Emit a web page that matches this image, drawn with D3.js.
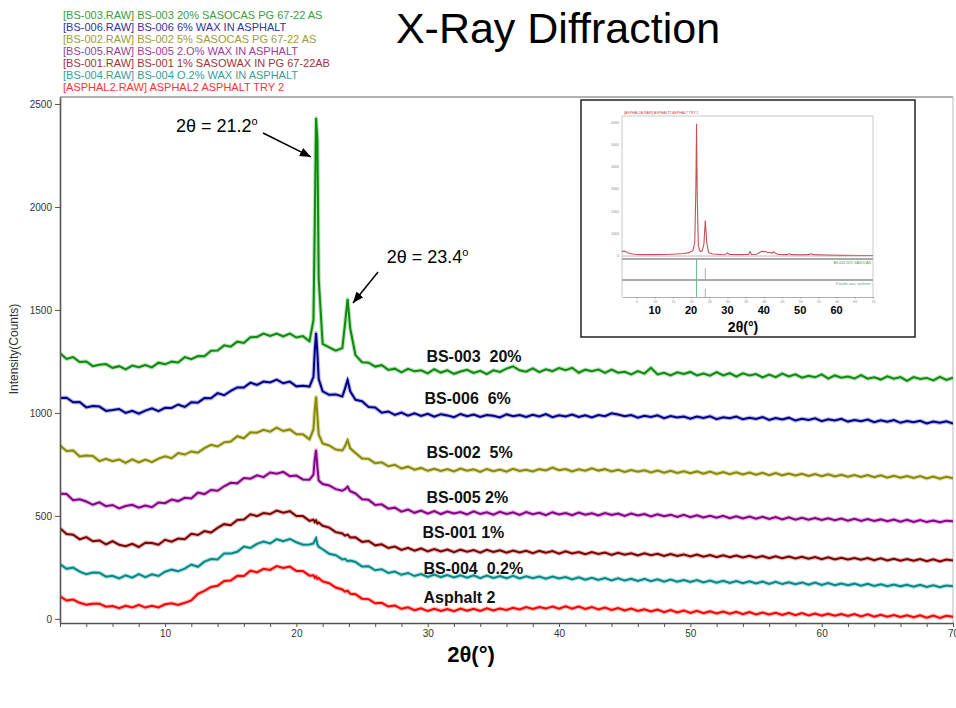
<!DOCTYPE html>
<html><head><meta charset="utf-8">
<script src="https://cdn.jsdelivr.net/npm/d3@7"></script>
<style>
body{margin:0;background:#fff}
svg{display:block}
text{font-family:"Liberation Sans",Arial,Helvetica,sans-serif}
</style>
</head><body>
<svg id="chart" width="956" height="708"></svg>
<script>
// ---------- DATA ----------
const twoTheta = [2,2.5,3,3.5,4,4.5,5,5.5,6,6.5,7,7.5,8,8.5,9,9.5,10,10.5,11,11.5,12,12.5,13,13.5,14,14.5,15,15.5,16,16.5,17,17.5,18,18.5,19,19.5,20,20.5,21,
21.3,21.4,21.5,21.6,21.7,
22,22.5,23,23.5,
23.7,23.9,24.1,
24.5,25,25.5,26,26.5,27,27.5,28,28.5,29,29.5,30,30.5,31,31.5,32,32.5,33,33.5,34,34.5,35,35.5,36,36.5,37,37.5,38,38.5,39,39.5,40,40.5,41,41.5,42,42.5,43,43.5,44,44.5,45,45.5,46,46.5,47,47.5,48,48.5,49,49.5,50,50.5,51,51.5,52,52.5,53,53.5,54,54.5,55,55.5,56,56.5,57,57.5,58,58.5,59,59.5,60,60.5,61,61.5,62,62.5,63,63.5,64,64.5,65,65.5,66,66.5,67,67.5,68,68.5,69,69.5,70];

const bs003 = [1290,1262,1271,1247,1250,1227,1234,1237,1219,1227,1211,1230,1222,1233,1221,1244,1236,1249,1245,1271,1261,1276,1275,1302,1303,1328,1322,1346,1340,1368,1369,1385,1374,1385,1371,1385,1366,1373,1348,
1450,1920,2432,2325,1650,
1335,1318,1302,1315,
1430,1553,1410,
1281,1246,1244,1225,1232,1209,1215,1197,1214,1202,1207,1192,1212,1196,1207,1190,1201,1209,1194,1204,1188,1207,1199,1215,1226,1207,1200,1216,1198,1212,1203,1218,1208,1219,1195,1210,1202,1211,1194,1210,1195,1200,1187,1203,1191,1219,1187,1195,1182,1197,1189,1199,1182,1191,1181,1198,1182,1193,1176,1192,1182,1189,1172,1186,1174,1191,1177,1187,1171,1180,1173,1187,1167,1182,1171,1177,1167,1184,1166,1173,1162,1178,1166,1174,1156,1174,1165,1170,1158,1175,1160,1171];

const bs006 = [1072,1074,1052,1053,1027,1034,1031,1010,1014,1019,1000,1010,996,1011,1022,1009,1025,1024,1041,1029,1052,1050,1072,1071,1096,1086,1107,1124,1123,1147,1136,1152,1148,1162,1144,1152,1129,1132,1128,
1175,1300,1388,1290,1165,
1105,1088,1090,1080,
1118,1160,1105,
1064,1057,1029,1026,1001,1007,990,1002,987,998,985,996,982,994,988,979,995,984,992,981,990,986,978,993,984,990,980,991,983,994,979,989,983,992,980,988,978,990,984,998,992,984,990,977,986,980,988,974,985,978,983,972,982,975,984,970,979,974,982,969,977,971,980,966,975,968,977,963,972,966,974,960,969,963,971,958,966,960,968,955,964,957,965,952,961,955,962,949,958,952,959,948];

const bs002 = [842,815,818,789,793,791,766,777,766,774,757,775,760,773,761,778,789,780,805,798,813,807,829,845,837,857,861,887,877,906,904,918,909,929,912,920,896,896,872,
920,1015,1078,985,895,
852,842,822,818,
838,868,828,
806,779,777,756,760,741,748,730,739,724,733,719,729,718,727,716,730,719,726,714,728,717,725,715,729,718,724,716,727,721,735,722,728,716,726,719,731,720,727,716,724,713,723,715,722,711,720,710,719,708,717,707,716,705,715,704,713,703,712,701,711,700,709,698,708,697,706,696,705,694,703,693,702,692,700,690,699,689,698,688,697,686,695,685,694,684,693,682,691,681,690,683];

const bs005 = [608,606,576,581,570,554,566,547,553,536,548,554,540,550,542,565,562,579,572,588,585,613,606,626,622,644,661,658,684,681,697,688,711,705,714,693,696,677,676,
700,775,820,735,672,
655,648,630,622,
630,642,620,
609,581,578,553,556,535,540,521,531,515,526,511,523,509,521,512,519,507,522,510,518,506,520,509,517,505,519,508,515,504,518,507,514,503,516,506,513,502,514,505,511,500,512,502,509,497,508,498,506,495,505,494,503,492,501,491,500,489,498,488,497,486,496,485,494,483,493,482,491,481,490,480,489,479,487,477,486,476,485,475,483,474,482,472,481,471,480,470,478,469,477,474];

const bs001 = [440,412,409,386,397,377,381,362,377,360,353,364,349,370,368,360,384,375,390,387,413,407,426,419,442,460,455,480,482,508,499,514,509,526,515,523,499,499,476,
482,470,478,463,468,
452,443,421,415,
404,409,395,
396,374,378,357,362,344,351,335,345,331,342,328,339,327,337,324,336,326,334,322,335,325,333,321,332,323,331,319,330,321,329,317,328,318,325,314,324,315,322,311,321,312,319,308,318,309,316,305,315,306,313,303,312,302,310,300,309,299,308,298,306,297,305,295,304,294,303,293,301,292,300,290,299,289,297,288,296,287,295,285,294,284,292,283,291,282,290,280,289,279,288,284];

const bs004 = [266,243,249,229,217,225,224,205,209,196,211,200,217,203,216,208,229,239,231,244,264,253,278,291,288,318,317,326,351,344,364,375,366,387,377,388,372,360,361,
366,380,392,362,350,
338,316,309,289,
292,280,283,
276,254,256,236,241,223,230,214,223,208,218,204,215,203,213,201,212,200,211,198,210,199,208,197,209,196,207,198,206,195,205,196,203,192,202,190,200,189,198,187,197,186,195,184,194,183,192,181,191,180,189,179,188,177,186,176,185,174,184,173,182,172,181,170,180,169,178,168,177,166,176,165,174,164,172,163,171,161,170,160,168,159,167,158,166,156,165,155,163,154,162,158];

const asphalt2 = [110,89,94,78,69,74,74,59,62,52,64,55,68,55,64,56,71,76,68,78,90,122,136,155,161,184,186,209,208,234,226,243,238,256,247,254,233,232,210,
212,200,206,194,198,
182,173,152,143,
132,137,122,
120,98,96,76,78,60,65,49,56,42,51,38,49,39,48,37,50,40,49,39,51,41,50,43,54,46,57,48,58,50,60,49,61,50,60,48,58,46,55,43,53,41,50,38,47,36,45,33,43,31,41,29,39,28,37,26,36,25,34,23,33,22,31,21,30,19,29,18,28,17,26,16,25,15,24,14,23,12,22,11,20,10,19,9,18,8,17,6,16,5,15,10];

const seriesValues = [bs003, bs006, bs002, bs005, bs001, bs004, asphalt2];
const legendLabels = [
  "[BS-003.RAW] BS-003 20% SASOCAS PG 67-22 AS",
  "[BS-006.RAW] BS-006 6% WAX IN ASPHALT",
  "[BS-002.RAW] BS-002 5% SASOCAS PG 67-22 AS",
  "[BS-005.RAW] BS-005 2.O% WAX IN ASPHALT",
  "[BS-001.RAW] BS-001 1% SASOWAX IN PG 67-22AB",
  "[BS-004.RAW] BS-004 O.2% WAX IN ASPHALT",
  "[ASPHAL2.RAW] ASPHAL2 ASPHALT TRY 2"
];
const curveLabels = ["BS-003  20%","BS-006  6%","BS-002  5%","BS-005 2%","BS-001 1%","BS-004  0.2%","Asphalt 2"];
const curveLabelPos = [[29.9,1248],[29.76,1044],[29.9,782],[29.9,563],[29.6,393],[29.68,218],[29.68,78]];
const lineColors = ["#0c8c0c","#00008c","#8a8a00","#8a008a","#800000","#008a8a","#ff0000"];
const legendColors = ["#3c9c3c","#33339c","#9c9c38","#9c3c9c","#9c3636","#3a9c9c","#ff3333"];

const xTickValues = [2,4,6,8,10,12,14,16,18,20,22,24,26,28,30,32,34,36,38,40,42,44,46,48,50,52,54,56,58,60,62,64,66,68,70];
const xTickLabels = [10,20,30,40,50,60,70];
const yTickValues = [0,500,1000,1500,2000,2500];

const annotations = [
  {text:"2θ = 21.2", sup:"o", tx:10.83, ty:2364, from:[17.46,2359], to:[21.11,2243]},
  {text:"2θ = 23.4", sup:"o", tx:26.88, ty:1728, from:[26.22,1684], to:[24.31,1534]}
];

// inset (whole-range pattern)
const insetTheta  = [1,1.5,2,2.5,3,4,5,7,10,13,16,18,19.5,20.5,21,21.3,21.5,21.7,22,22.5,23,23.5,23.9,24.3,24.8,26,28,29.5,30,30.5,33,35.8,36.2,36.6,38,39.3,39.7,40.1,40.5,41,41.5,42.2,42.6,43,44,46.5,47,47.5,50,52.5,53,53.5,55,58,62,66,70];
const insetCounts = [180,230,200,150,120,90,70,60,60,70,90,110,150,250,600,3000,5950,2500,450,200,220,500,1600,600,150,90,70,80,140,70,60,70,200,70,80,200,220,180,210,150,170,120,190,130,70,60,110,60,50,60,110,60,50,40,30,20,20];
const insetYTicks = [0,1000,2000,3000,4000,5000,6000];
const insetXLabels = [10,20,30,40,50,60];

// ---------- DRAW ----------
const svg = d3.select("#chart");
const x = d3.scaleLinear().domain([2,70]).range([60,953]);
const y = d3.scaleLinear().domain([-20,2534]).range([623,97]);

svg.append("text").attr("x",558).attr("y",43).attr("text-anchor","middle")
  .attr("font-size",43).attr("fill","#000").text("X-Ray Diffraction");

svg.append("g").selectAll("text").data(legendLabels).join("text")
  .attr("x",63).attr("y",(d,i)=>19+i*12).attr("font-size",11)
  .attr("fill",(d,i)=>legendColors[i]).text(d=>d);

svg.append("line").attr("x1",x(2)).attr("x2",x(70)).attr("y1",y(2534)).attr("y2",y(2534))
  .attr("stroke","#666").attr("stroke-width",1.2);
svg.append("line").attr("x1",x(70)).attr("x2",x(70)).attr("y1",y(2534)).attr("y2",y(-20))
  .attr("stroke","#bbb").attr("stroke-width",1);

svg.append("clipPath").attr("id","plotclip").append("rect")
  .attr("x",x(2)).attr("y",y(2534)).attr("width",x(70)-x(2)).attr("height",y(-20)-y(2534));

const line = d3.line().x(d=>x(d[0])).y(d=>y(d[1]));
const gLines = svg.append("g").attr("clip-path","url(#plotclip)");
seriesValues.forEach((vals,i)=>{
  const n = Math.min(vals.length, twoTheta.length);
  const pts = d3.range(n).map(k=>[twoTheta[k], vals[k]]);
  gLines.append("path").datum(pts).attr("d",line)
    .attr("fill","none").attr("stroke",lineColors[i]).attr("stroke-width",4.2)
    .attr("stroke-opacity",0.28).attr("stroke-linejoin","round");
  gLines.append("path").datum(pts).attr("d",line)
    .attr("fill","none").attr("stroke",lineColors[i]).attr("stroke-width",2)
    .attr("stroke-linejoin","miter");
});

const xAxis = svg.append("g").attr("transform",`translate(0,${y(-20)})`)
  .call(d3.axisBottom(x).tickValues(xTickValues).tickSize(4).tickSizeOuter(0)
    .tickFormat(d=>xTickLabels.includes(d)?d:""));
xAxis.select(".domain").attr("stroke","#555").attr("stroke-width",1.6);
xAxis.selectAll(".tick line").attr("stroke","#555");
xAxis.selectAll(".tick text").attr("font-size",10).attr("fill","#333")
  .attr("font-family","Liberation Sans, Arial, sans-serif");

const yAxis = svg.append("g").attr("transform",`translate(${x(2)},0)`)
  .call(d3.axisLeft(y).tickValues(yTickValues).tickSize(5).tickSizeOuter(0).tickFormat(d3.format("d")));
yAxis.select(".domain").attr("stroke","#555").attr("stroke-width",1.6);
yAxis.selectAll(".tick line").attr("stroke","#555");
yAxis.selectAll(".tick text").attr("font-size",10).attr("fill","#333")
  .attr("font-family","Liberation Sans, Arial, sans-serif");

svg.append("text").attr("transform","translate(18,349) rotate(-90)")
  .attr("text-anchor","middle").attr("font-size",12).attr("fill","#333").text("Intensity(Counts)");
svg.append("text").attr("x",471).attr("y",662).attr("text-anchor","middle")
  .attr("font-size",22).attr("font-weight","bold").attr("fill","#000").text("2θ(°)");

svg.append("g").selectAll("text").data(curveLabels).join("text")
  .attr("x",(d,i)=>x(curveLabelPos[i][0])).attr("y",(d,i)=>y(curveLabelPos[i][1]))
  .attr("font-size",16).attr("font-weight","bold").attr("fill","#111")
  .style("white-space","pre").text(d=>d);

svg.append("defs").append("marker").attr("id","arrow")
  .attr("markerUnits","userSpaceOnUse").attr("markerWidth",11).attr("markerHeight",9)
  .attr("refX",11).attr("refY",4.5).attr("orient","auto")
  .append("path").attr("d","M0,0 L11,4.5 L0,9 Z").attr("fill","#000");
annotations.forEach(a=>{
  const t = svg.append("text").attr("x",x(a.tx)).attr("y",y(a.ty)).attr("font-size",18).attr("fill","#000");
  t.append("tspan").text(a.text);
  t.append("tspan").attr("font-size",11).attr("dy",-7).text(a.sup);
  svg.append("line").attr("x1",x(a.from[0])).attr("y1",y(a.from[1]))
    .attr("x2",x(a.to[0])).attr("y2",y(a.to[1]))
    .attr("stroke","#000").attr("stroke-width",1.5).attr("marker-end","url(#arrow)");
});

// ---------- INSET ----------
const inset = svg.append("g");
inset.append("rect").attr("x",581).attr("y",100).attr("width",334).attr("height",237)
  .attr("fill","#fff").attr("stroke","#222").attr("stroke-width",1.5);
const ix = d3.scaleLinear().domain([1,70]).range([622,873]);
const iy = d3.scaleLinear().domain([0,6300]).range([256,116]);
inset.append("path").attr("d",`M${ix(1)},297 V${iy(6300)} H${ix(70)} V297`)
  .attr("fill","none").attr("stroke","#bbb").attr("stroke-width",0.8);
inset.append("text").attr("x",624).attr("y",114).attr("font-size",3.5).attr("fill","#d04040")
  .text("[ASPHAL2A.RAW] ASPHALT2 ASPHALT TRY 2");
inset.append("g").selectAll("text").data(insetYTicks).join("text")
  .attr("x",619).attr("y",d=>iy(d)+1).attr("text-anchor","end").attr("font-size",3.5).attr("fill","#888")
  .text(d=>d);
[259,280].forEach(yy=>inset.append("line").attr("x1",ix(1)).attr("x2",ix(70)).attr("y1",yy).attr("y2",yy)
  .attr("stroke","#aaa").attr("stroke-width",2.2));
inset.append("text").attr("x",871).attr("y",264).attr("text-anchor","end").attr("font-size",3.5)
  .attr("fill","#3a9a3a").text("BS-003 20% SASOCAS");
inset.append("text").attr("x",871).attr("y",285).attr("text-anchor","end").attr("font-size",3.5)
  .attr("fill","#669999").text("Paraffin wax, synthetic");
inset.append("line").attr("x1",ix(21.5)).attr("x2",ix(21.5)).attr("y1",259).attr("y2",297)
  .attr("stroke","#66bb88").attr("stroke-width",1);
inset.append("line").attr("x1",ix(23.9)).attr("x2",ix(23.9)).attr("y1",268).attr("y2",279)
  .attr("stroke","#999").attr("stroke-width",0.8);
inset.append("line").attr("x1",ix(23.9)).attr("x2",ix(23.9)).attr("y1",289).attr("y2",297)
  .attr("stroke","#999").attr("stroke-width",0.8);
const iax = inset.append("g").attr("transform","translate(0,297)")
  .call(d3.axisBottom(ix).tickValues(d3.range(5,71,5)).tickSize(1.5).tickSizeOuter(0));
iax.select(".domain").attr("stroke","#999").attr("stroke-width",0.8);
iax.selectAll(".tick line").attr("stroke","#999");
iax.selectAll(".tick text").attr("font-size",3.5).attr("fill","#888").attr("dy","0.3em");
const iline = d3.line().x((d,k)=>ix(insetTheta[k])).y(d=>iy(d));
inset.append("path").datum(insetCounts).attr("d",iline)
  .attr("fill","none").attr("stroke","#c05555").attr("stroke-width",1.1);
inset.append("line").attr("x1",ix(1)).attr("x2",ix(70)).attr("y1",iy(0)).attr("y2",iy(0))
  .attr("stroke","#c9a0a0").attr("stroke-width",0.8);
inset.append("g").selectAll("text").data(insetXLabels).join("text")
  .attr("x",d=>ix(d)).attr("y",314).attr("text-anchor","middle")
  .attr("font-size",11).attr("font-weight","bold").attr("fill","#000").text(d=>d);
inset.append("text").attr("x",743).attr("y",332).attr("text-anchor","middle")
  .attr("font-size",14).attr("font-weight","bold").attr("fill","#000").text("2θ(°)");
</script>
</body></html>
